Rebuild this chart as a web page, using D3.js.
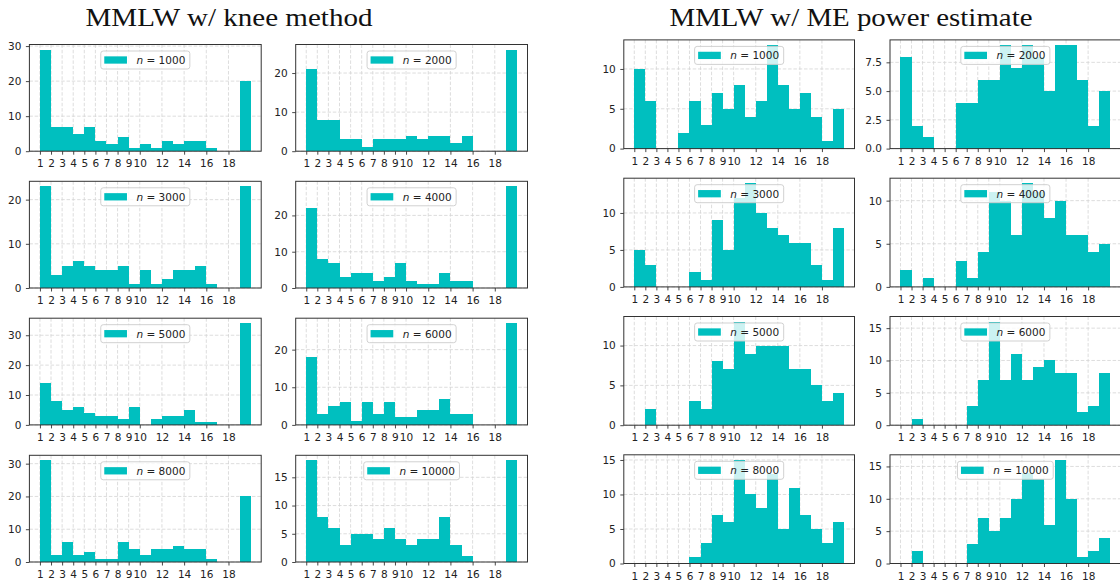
<!DOCTYPE html>
<html><head><meta charset="utf-8">
<script src="https://cdn.jsdelivr.net/npm/d3@7"></script>
<style>body{margin:0;background:#fff}svg{display:block}</style>
</head><body><svg id="c" width="1120" height="583"></svg>
<script>
// ---------- data ----------
const binEdges = [1,2,3,4,5,6,7,8,9,10,11,12,13,14,15,16,17,18,19,20];
const xTickValues = [1,2,3,4,5,6,7,8,9,10,12,14,16,18];
const sampleSizes = [1000,2000,3000,4000,5000,6000,8000,10000];

// MMLW w/ knee method
const knee1000  = [29,7,7,5,7,3,2,4,1,2,1,3,2,3,3,1,0,0,20];
const knee2000  = [21,8,8,3,3,1,3,3,3,4,3,4,4,2,4,0,0,0,26];
const knee3000  = [23,3,5,6,5,4,4,5,1,4,1,2,4,4,5,1,0,0,23];
const knee4000  = [22,8,7,3,4,4,2,3,7,2,1,1,4,2,2,0,0,0,28];
const knee5000  = [14,8,5,6,4,3,3,2,6,0,2,3,3,5,1,1,0,0,34];
const knee6000  = [18,3,5,6,1,6,3,6,2,2,4,4,7,3,3,0,0,0,27];
const knee8000  = [31,2,6,2,3,1,1,6,4,2,4,4,5,4,4,1,0,0,20];
const knee10000 = [18,8,6,3,5,5,4,6,4,3,4,4,8,3,1,0,0,0,18];

// MMLW w/ ME power estimate
const me1000  = [10,6,0,0,2,6,3,7,5,8,4,6,13,8,5,7,4,1,5];
const me2000  = [8,2,1,0,0,4,4,6,6,9,7,9,8,5,9,9,6,2,5];
const me3000  = [5,3,0,0,0,2,1,9,5,12,14,10,8,7,6,6,3,1,8];
const me4000  = [2,0,1,0,0,3,1,4,11,10,6,12,11,8,10,6,6,4,5];
const me5000  = [0,2,0,0,0,3,2,8,7,13,9,10,10,10,7,7,5,3,4];
const me6000  = [0,1,0,0,0,0,3,7,16,7,11,7,9,10,8,8,2,3,8];
const me8000  = [0,0,0,0,0,1,3,7,6,15,10,8,13,5,11,7,5,3,6];
const me10000 = [0,2,0,0,0,0,3,7,5,7,10,14,13,6,16,10,1,2,4];

const kneeYTicks = [[0,10,20,30],[0,10,20],[0,10,20],[0,10,20],[0,10,20,30],[0,10,20],[0,10,20,30],[0,5,10,15]];
const meYTicks   = [[0,5,10],[0,2.5,5,7.5],[0,5,10],[0,5,10],[0,5,10],[0,5,10,15],[0,5,10,15],[0,5,10,15]];

const titles = ["MMLW w/ knee method", "MMLW w/ ME power estimate"];

// ---------- layout ----------
const layout = [
  {titleX:229, titleLen:287, colX:[29.4,295.7], rowY:[44.5,181.3,318.2,455.3], w:231.8, h:106.7,
   counts:[knee1000,knee2000,knee3000,knee4000,knee5000,knee6000,knee8000,knee10000], yTicks:kneeYTicks},
  {titleX:851, titleLen:363, colX:[623.8,890], rowY:[39.9,178.2,316.5,454.8], w:230.7, h:108.7,
   counts:[me1000,me2000,me3000,me4000,me5000,me6000,me8000,me10000], yTicks:meYTicks}
];

const BAR = "#00bfbf", AX = "#333", GRID = "#d4d4d4";
const FONT = "'DejaVu Sans', sans-serif", FS = 10.5;
const svg = d3.select("#c");

function panel(x0, y0, w, h, counts, yTicks, n) {
  const g = svg.append("g");
  const x = d3.scaleLinear().domain([0.05, 20.95]).range([x0, x0 + w]);
  const y = d3.scaleLinear().domain([0, d3.max(counts) * 1.05]).range([y0 + h, y0]);

  // grid (below bars)
  const grid = g.append("g").attr("stroke", GRID).attr("stroke-width", 0.8).attr("stroke-dasharray", "3.5,1.8");
  grid.selectAll("line.gx").data(xTickValues).join("line").attr("class","gx")
    .attr("x1", d => x(d)).attr("x2", d => x(d)).attr("y1", y0).attr("y2", y0 + h);
  grid.selectAll("line.gy").data(yTicks).join("line").attr("class","gy")
    .attr("x1", x0).attr("x2", x0 + w).attr("y1", d => y(d)).attr("y2", d => y(d));

  // bars
  const bins = counts.map((c, i) => ({a: binEdges[i], b: binEdges[i + 1], c}));
  g.append("g").selectAll("rect").data(bins).join("rect")
    .attr("x", d => x(d.a)).attr("width", d => x(d.b) - x(d.a))
    .attr("y", d => y(d.c)).attr("height", d => y(0) - y(d.c))
    .attr("fill", BAR).attr("shape-rendering", "crispEdges");

  // axes
  const fmt = yTicks.some(t => t % 1 !== 0) ? d3.format(".1f") : d3.format("d");
  const xa = g.append("g").attr("transform", `translate(0,${y0 + h})`)
    .call(d3.axisBottom(x).tickValues(xTickValues).tickSize(3.5).tickSizeOuter(0).tickPadding(5.2));
  const ya = g.append("g").attr("transform", `translate(${x0},0)`)
    .call(d3.axisLeft(y).tickValues(yTicks).tickFormat(fmt).tickSize(3.5).tickSizeOuter(0).tickPadding(4.5));
  [xa, ya].forEach(a => {
    a.select(".domain").remove();
    a.selectAll("line").attr("stroke", AX).attr("stroke-width", 0.9);
    a.selectAll("text").attr("font-family", FONT).attr("font-size", FS).attr("fill", "#222");
  });

  // legend
  const lg = g.append("g");
  const txt = lg.append("text").attr("font-family", FONT).attr("font-size", FS).attr("fill", "#222");
  txt.append("tspan").attr("font-style", "italic").text("n");
  txt.append("tspan").text(" = " + n);
  const tw = txt.node().getComputedTextLength();
  const lh = 18, pw = 22.7, ph = 7.3;
  const lw = 3.5 + pw + 9.5 + tw + 4.5;
  const lx = x0 + w / 2 - lw / 2, ly = y0 + 6.5;
  lg.insert("rect", "text").attr("x", lx).attr("y", ly).attr("width", lw).attr("height", lh)
    .attr("rx", 2.5).attr("fill", "#fff").attr("fill-opacity", 0.8)
    .attr("stroke", "#cccccc").attr("stroke-width", 0.9);
  lg.insert("rect", "text").attr("x", lx + 3.5).attr("y", ly + (lh - ph) / 2)
    .attr("width", pw).attr("height", ph).attr("fill", BAR);
  txt.attr("x", lx + 3.5 + pw + 9.5).attr("y", ly + lh / 2 + 3.8);

  // spines
  g.append("rect").attr("x", x0).attr("y", y0).attr("width", w).attr("height", h)
    .attr("fill", "none").attr("stroke", AX).attr("stroke-width", 1);
}

layout.forEach((L, gi) => {
  svg.append("text").attr("x", L.titleX).attr("y", 26).attr("text-anchor", "middle")
    .attr("font-family", "'Liberation Serif', 'DejaVu Serif', serif").attr("font-size", 26)
    .attr("textLength", L.titleLen).attr("lengthAdjust", "spacingAndGlyphs")
    .attr("fill", "#111").text(titles[gi]);
  sampleSizes.forEach((n, i) => {
    const r = Math.floor(i / 2), c = i % 2;
    panel(L.colX[c], L.rowY[r], L.w, L.h, L.counts[i], L.yTicks[i], n);
  });
});
</script></body></html>
